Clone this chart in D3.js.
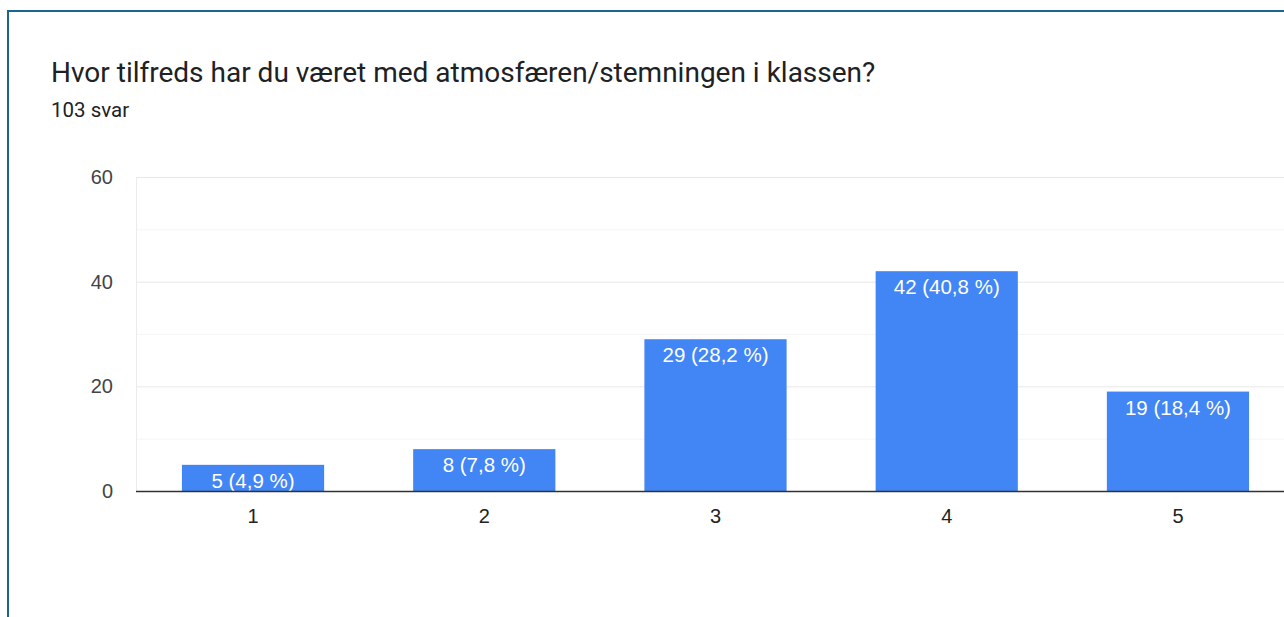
<!DOCTYPE html>
<html>
<head>
<meta charset="utf-8">
<script src="https://cdn.jsdelivr.net/npm/d3@7"></script>
<style>
    body { margin: 0; background: #fff; overflow: hidden; }
    #card {
        position: absolute;
        left: 7px;
        top: 10px;
        width: 1300px;
        height: 640px;
        border: 2px solid #1b6591;
        box-sizing: border-box;
    }
</style>
</head>
<body>
<div id="card"></div>
<svg id="chart" width="1284" height="617" style="position:absolute;left:0;top:0"></svg>
<script>
// chart data
var title = "Hvor tilfreds har du været med atmosfæren/stemningen i klassen?";
var subtitle = "103 svar";
var categories = ["1", "2", "3", "4", "5"];
var counts = [5, 8, 29, 42, 19];
var percents = ["4,9", "7,8", "28,2", "40,8", "18,4"];
var yTicks = [0, 20, 40, 60];
var yMinorTicks = [10, 30, 50];

var svg = d3.select("#chart");

// title and number of answers
svg.append("text")
    .attr("x", 51)
    .attr("y", 82)
    .style("font-family", "Roboto, sans-serif")
    .style("font-size", "28px")
    .style("fill", "#202124")
    .text(title);

svg.append("text")
    .attr("x", 51)
    .attr("y", 117)
    .style("font-family", "Roboto, sans-serif")
    .style("font-size", "20.5px")
    .style("fill", "#202124")
    .text(subtitle);

// scales
var x = d3.scaleBand()
    .domain(categories)
    .range([138, 1293])
    .paddingInner(0.385)
    .paddingOuter(0.19);

var y = d3.scaleLinear()
    .domain([0, 60])
    .range([491, 177]);

// minor gridlines
svg.append("g")
    .selectAll("line")
    .data(yMinorTicks)
    .enter().append("line")
    .attr("x1", 136)
    .attr("x2", 1284)
    .attr("y1", function (d) { return y(d) + 0.5; })
    .attr("y2", function (d) { return y(d) + 0.5; })
    .attr("stroke", "#f5f5f5");

// major gridlines
svg.append("g")
    .selectAll("line")
    .data(yTicks.slice(1))
    .enter().append("line")
    .attr("x1", 136)
    .attr("x2", 1284)
    .attr("y1", function (d) { return y(d) + 0.5; })
    .attr("y2", function (d) { return y(d) + 0.5; })
    .attr("stroke", "#e8e8e8");

// left edge of plot area
svg.append("line")
    .attr("x1", 136.5).attr("x2", 136.5)
    .attr("y1", y(60)).attr("y2", y(0))
    .attr("stroke", "#ebebeb");

// y axis labels
var yAxis = d3.axisLeft(y).tickValues(yTicks).tickSize(0).tickPadding(23);
var gy = svg.append("g")
    .attr("transform", "translate(136,0)")
    .call(yAxis);
gy.select(".domain").remove();
gy.selectAll("text")
    .style("font-family", "'Liberation Sans', Arial, sans-serif")
    .style("font-size", "20px")
    .style("fill", "#444");

// bars
svg.append("g")
    .selectAll("rect")
    .data(counts)
    .enter().append("rect")
    .attr("x", function (d, i) { return x(categories[i]); })
    .attr("y", function (d) { return y(d); })
    .attr("width", x.bandwidth())
    .attr("height", function (d) { return y(0) - y(d); })
    .attr("fill", "#4285f4");

// value labels inside bars
svg.append("g")
    .selectAll("text")
    .data(counts)
    .enter().append("text")
    .attr("x", function (d, i) { return x(categories[i]) + x.bandwidth() / 2; })
    .attr("y", function (d) { return y(d) + 23; })
    .attr("text-anchor", "middle")
    .style("font-family", "'Liberation Sans', Arial, sans-serif")
    .style("font-size", "20.5px")
    .style("fill", "#fff")
    .text(function (d, i) { return d + " (" + percents[i] + " %)"; });

// x axis
var xAxis = d3.axisBottom(x).tickSize(0).tickPadding(18);
var gx = svg.append("g")
    .attr("transform", "translate(0," + y(0) + ")")
    .call(xAxis);
gx.select(".domain").remove();
gx.selectAll("text")
    .style("font-family", "'Liberation Sans', Arial, sans-serif")
    .style("font-size", "20px")
    .style("fill", "#222");

svg.append("line")
    .attr("x1", 136).attr("x2", 1284)
    .attr("y1", y(0) + 0.5).attr("y2", y(0) + 0.5)
    .attr("stroke", "#333")
    .attr("stroke-width", 1.5);
</script>
</body>
</html>
